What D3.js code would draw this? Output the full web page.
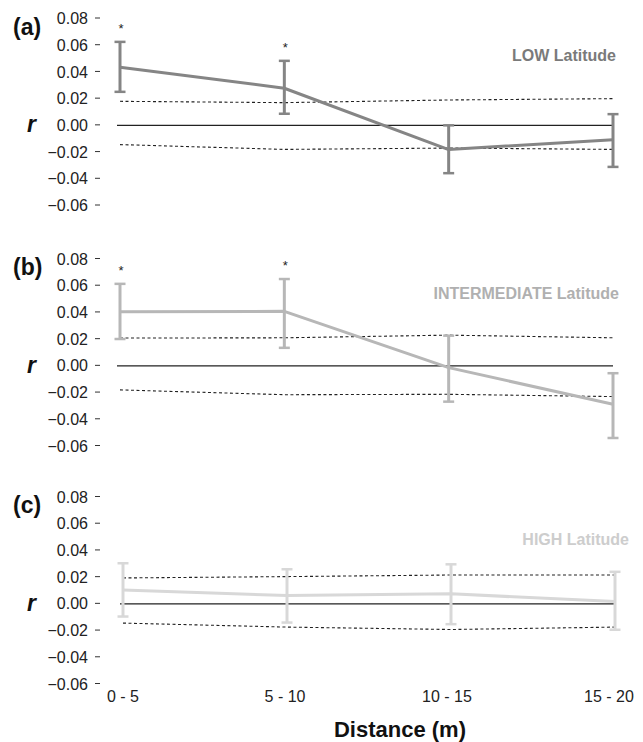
<!DOCTYPE html>
<html>
<head>
<meta charset="utf-8">
<script src="https://cdn.jsdelivr.net/npm/d3@7"></script>
<style>
  html, body { margin: 0; padding: 0; background: #fff; }
  svg { display: block; }
  text { font-family: "Liberation Sans", Arial, Helvetica, sans-serif; }
</style>
</head>
<body>
<svg id="chart" width="643" height="742"></svg>
<script>
// ---------------- DATA ----------------
const categories = ["0 - 5", "5 - 10", "10 - 15", "15 - 20"];
const yTicks = [0.08, 0.06, 0.04, 0.02, 0.00, -0.02, -0.04, -0.06];

const panelLetters = ["(a)", "(b)", "(c)"];
const panelTitles = ["LOW Latitude", "INTERMEDIATE Latitude", "HIGH Latitude"];

// mean r per distance class
const lowMean  = [0.0435, 0.0278, -0.0181, -0.0107];
const lowHi    = [0.0625, 0.0483,  0.0000,  0.0084];
const lowLo    = [0.0251, 0.0087, -0.0358, -0.0311];
const lowUpper = [0.018, 0.017, 0.019, 0.020];
const lowLower = [-0.0144, -0.018, -0.017, -0.018];
const lowSig   = [true, true, false, false];

const midMean  = [0.0406, 0.0408, -0.0013, -0.0288];
const midHi    = [0.0614, 0.0650,  0.0226, -0.0055];
const midLo    = [0.0201, 0.0135, -0.0268, -0.0540];
const midUpper = [0.0208, 0.021, 0.023, 0.021];
const midLower = [-0.018, -0.0216, -0.0213, -0.023];
const midSig   = [true, true, false, false];

const highMean  = [0.0104, 0.0062, 0.0075, 0.0017];
const highHi    = [0.0304, 0.0259, 0.0296, 0.0240];
const highLo    = [-0.0095, -0.0140, -0.0152, -0.0194];
const highUpper = [0.0194, 0.0204, 0.0216, 0.0216];
const highLower = [-0.0144, -0.0174, -0.0192, -0.0174];
const highSig   = [false, false, false, false];

// ---------------- LAYOUT ----------------
const panels = [
  { mean: lowMean,  hi: lowHi,  lo: lowLo,  up: lowUpper,  low: lowLower,  sig: lowSig,
    top: 18.5, xr: [120, 613], color: "#858585", textColor: "#7a7a7a", titleX: 616, titleY: 61 },
  { mean: midMean,  hi: midHi,  lo: midLo,  up: midUpper,  low: midLower,  sig: midSig,
    top: 259,  xr: [120, 613], color: "#b7b7b7", textColor: "#b0b0b0", titleX: 619, titleY: 299 },
  { mean: highMean, hi: highHi, lo: highLo, up: highUpper, low: highLower, sig: highSig,
    top: 497,  xr: [123, 615], color: "#d8d8d8", textColor: "#cdcdcd", titleX: 629, titleY: 545 }
];
const panelH = 187;

const svg = d3.select("#chart");

panels.forEach((p, i) => {
  const g = svg.append("g");
  const y = d3.scaleLinear().domain([-0.06, 0.08]).range([p.top + panelH, p.top]);
  const x = d3.scalePoint().domain(categories).range(p.xr);

  // y axis
  const ax = g.append("g")
    .attr("transform", "translate(100,0)")
    .call(d3.axisLeft(y).tickValues(yTicks).tickSize(5).tickPadding(7)
      .tickFormat(d => d3.format(".2f")(d)));
  ax.select(".domain").remove();
  ax.selectAll(".tick line").attr("stroke", "#333").attr("transform", "translate(0,-1)");
  ax.selectAll(".tick text")
    .attr("font-size", 16).attr("fill", "#222")
    .attr("font-family", "'Liberation Sans', Arial, sans-serif");

  // panel letter
  g.append("text").attr("x", 13).attr("y", p.top + 16)
    .attr("font-size", 23).attr("font-weight", "bold").attr("fill", "#111")
    .text(panelLetters[i]);

  // r label
  g.append("text").attr("x", 27).attr("y", y(0) + 7)
    .attr("font-size", 23).attr("font-weight", "bold").attr("font-style", "italic")
    .attr("fill", "#111").text("r");

  // panel title
  g.append("text").attr("x", p.titleX).attr("y", p.titleY)
    .attr("text-anchor", "end").attr("font-size", 16).attr("font-weight", "bold")
    .attr("fill", p.textColor).text(panelTitles[i]);

  // zero line
  g.append("line")
    .attr("x1", p.xr[0] - 3).attr("x2", p.xr[1])
    .attr("y1", y(0)).attr("y2", y(0))
    .attr("stroke", "#222").attr("stroke-width", 1.2);

  // dashed confidence lines
  const dl = d3.line().x((d, j) => x(categories[j])).y(d => y(d));
  [p.up, p.low].forEach(arr => {
    g.append("path").attr("d", dl(arr))
      .attr("fill", "none").attr("stroke", "#222").attr("stroke-width", 1.1)
      .attr("stroke-dasharray", "3,2.5");
  });

  // error bars
  categories.forEach((c, j) => {
    const cx = x(c);
    g.append("line").attr("x1", cx).attr("x2", cx)
      .attr("y1", y(p.hi[j])).attr("y2", y(p.lo[j]))
      .attr("stroke", p.color).attr("stroke-width", 3);
    [p.hi[j], p.lo[j]].forEach(v => {
      g.append("line").attr("x1", cx - 5.5).attr("x2", cx + 5.5)
        .attr("y1", y(v)).attr("y2", y(v))
        .attr("stroke", p.color).attr("stroke-width", 2.5);
    });
    if (p.sig[j]) {
      g.append("text").attr("x", cx + 1).attr("y", y(p.hi[j]) - 9)
        .attr("text-anchor", "middle").attr("font-size", 13).attr("fill", "#222")
        .text("*");
    }
  });

  // mean line
  g.append("path").attr("d", dl(p.mean))
    .attr("fill", "none").attr("stroke", p.color).attr("stroke-width", 3)
    .attr("stroke-linejoin", "round");

  // x labels on last panel
  if (i === panels.length - 1) {
    const xl = d3.scalePoint().domain(categories).range([123, 609]);
    categories.forEach(c => {
      g.append("text").attr("x", xl(c)).attr("y", 702)
        .attr("text-anchor", "middle").attr("font-size", 16).attr("fill", "#222")
        .text(c);
    });
    g.append("text").attr("x", 400).attr("y", 737)
      .attr("text-anchor", "middle").attr("font-size", 22).attr("font-weight", "bold")
      .attr("fill", "#111").text("Distance (m)");
  }
});
</script>
</body>
</html>
